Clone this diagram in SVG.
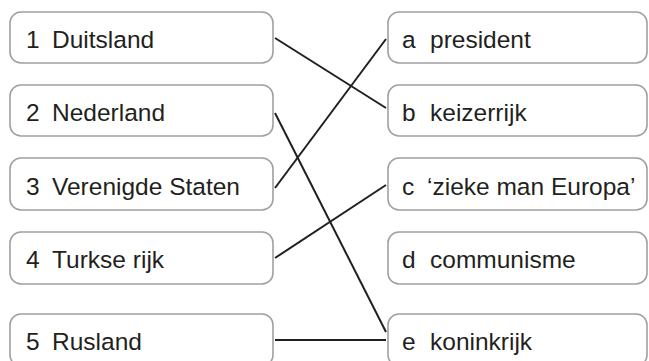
<svg xmlns="http://www.w3.org/2000/svg" width="649" height="361" viewBox="0 0 649 361">
<style>
.box{fill:#fff;stroke:#a0a0a2;stroke-width:1.6}
.t{font-family:"Liberation Sans",Arial,sans-serif;font-size:24.5px;fill:#231f20}
.ln{stroke:#231f20;stroke-width:2;fill:none}
</style>
<rect width="649" height="361" fill="#fff"/>
<g id="connectors">
<line class="ln" x1="275" y1="38" x2="386" y2="108"/>
<line class="ln" x1="275" y1="113" x2="386" y2="332"/>
<line class="ln" x1="275" y1="188" x2="386" y2="39"/>
<line class="ln" x1="275" y1="258" x2="386" y2="185"/>
<line class="ln" x1="275" y1="340" x2="386" y2="340"/>
</g>
<g id="n1"><rect class="box" x="10" y="12" width="263" height="51" rx="11"/><text class="t" y="48"><tspan x="26">1</tspan><tspan x="52">Duitsland</tspan></text></g>
<g id="n2"><rect class="box" x="10" y="85" width="263" height="51" rx="11"/><text class="t" y="121"><tspan x="26">2</tspan><tspan x="52">Nederland</tspan></text></g>
<g id="n3"><rect class="box" x="10" y="158" width="263" height="52" rx="11"/><text class="t" y="195"><tspan x="26">3</tspan><tspan x="52">Verenigde Staten</tspan></text></g>
<g id="n4"><rect class="box" x="10" y="232" width="263" height="52" rx="11"/><text class="t" y="268"><tspan x="26">4</tspan><tspan x="52">Turkse rijk</tspan></text></g>
<g id="n5"><rect class="box" x="10" y="314" width="263" height="52" rx="11"/><text class="t" y="350"><tspan x="26">5</tspan><tspan x="52">Rusland</tspan></text></g>
<g id="na"><rect class="box" x="388" y="12" width="259" height="51" rx="11"/><text class="t" y="48"><tspan x="402">a</tspan><tspan x="430">president</tspan></text></g>
<g id="nb"><rect class="box" x="388" y="85" width="259" height="51" rx="11"/><text class="t" y="121"><tspan x="402">b</tspan><tspan x="430">keizerrijk</tspan></text></g>
<g id="nc"><rect class="box" x="388" y="158" width="259" height="52" rx="11"/><text class="t" y="195"><tspan x="402">c</tspan><tspan x="427">‘zieke man Europa’</tspan></text></g>
<g id="nd"><rect class="box" x="388" y="232" width="259" height="52" rx="11"/><text class="t" y="268"><tspan x="402">d</tspan><tspan x="430">communisme</tspan></text></g>
<g id="ne"><rect class="box" x="388" y="314" width="259" height="52" rx="11"/><text class="t" y="350"><tspan x="402">e</tspan><tspan x="430">koninkrijk</tspan></text></g>
</svg>
